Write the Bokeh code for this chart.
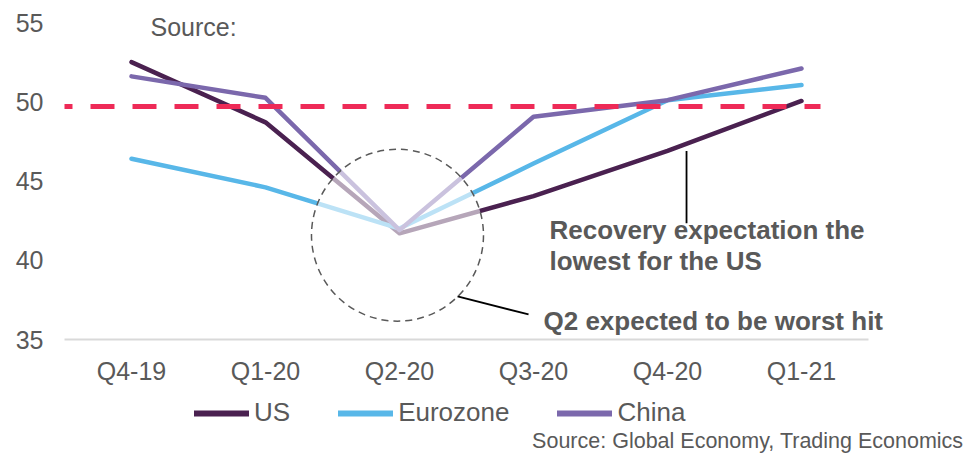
from bokeh.plotting import figure
from bokeh.models import (Range1d, FixedTicker, Legend, LegendItem, Label, Arrow)
from bokeh.layouts import column
from bokeh.embed import file_html
from bokeh.resources import INLINE

# ---- data ----
quarters = ["Q4-19", "Q1-20", "Q2-20", "Q3-20", "Q4-20", "Q1-21"]
us = [52.5, 48.7, 41.7, 44.05, 46.9, 50.05]
eurozone = [46.4, 44.6, 42.0, 46.1, 50.1, 51.05]
china = [51.6, 50.25, 41.9, 49.05, 50.1, 52.1]
y_ticks = [35, 40, 45, 50, 55]

series_names = ["US", "Eurozone", "China"]
series_values = [us, eurozone, china]
series_colors = ["#4A2150", "#58B7E8", "#7B68AC"]

GREY = "#595959"
FONT = "Liberation Sans"
xpos = list(range(len(quarters)))          # category slots
idx = {q: i for i, q in enumerate(quarters)}

# ---------------- main chart ----------------
H1 = 395
p = figure(width=966, height=H1, x_range=Range1d(-0.5, -0.5 + 902 / 134),
           y_range=Range1d(35, 55 + 22 / 15.85), output_backend="svg",
           toolbar_location=None, min_border_left=64, min_border_right=0,
           min_border_top=0, min_border_bottom=H1 - 339)
p.outline_line_color = None
p.xgrid.visible = False
p.ygrid.visible = False

xa = p.xaxis[0]
xa.ticker = FixedTicker(ticks=xpos)
xa.major_label_overrides = {i: q for i, q in enumerate(quarters)}
xa.bounds = (-0.5, len(quarters) - 0.5)
xa.axis_line_color = "#D9D9D9"
xa.axis_line_width = 2
xa.major_tick_line_color = None
xa.minor_tick_line_color = None
xa.major_tick_out = 0
xa.major_tick_in = 0
xa.major_label_standoff = 17
xa.major_label_text_font = FONT
xa.major_label_text_font_size = "25px"
xa.major_label_text_color = GREY

ya = p.yaxis[0]
ya.ticker = FixedTicker(ticks=y_ticks)
ya.axis_line_color = None
ya.major_tick_line_color = None
ya.minor_tick_line_color = None
ya.major_tick_out = 0
ya.major_tick_in = 0
ya.major_label_standoff = 21
ya.major_label_text_font = FONT
ya.major_label_text_font_size = "25px"
ya.major_label_text_color = GREY

# threshold dashed line
p.add_layout(Arrow(start=None, end=None, x_start=-16, y_start=233, x_end=756, y_end=233,
                   start_units="screen", end_units="screen",
                   line_color="#EE2A57", line_width=5, line_dash="24 18"))

for name, vals, col in zip(series_names, series_values, series_colors):
    p.line(x=xpos, y=vals, line_color=col, line_width=4.5,
           line_join="round", line_cap="round")

# fading circle around Q2-20
p.scatter(x=[idx["Q2-20"] - 0.015], y=[41.58], marker="circle", size=172,
          fill_color="white", fill_alpha=0.6,
          line_color=GREY, line_width=1.5, line_dash="7 5")

# pointer lines
p.segment(x0=[idx["Q2-20"] + 0.433], y0=[37.72], x1=[idx["Q3-20"] - 0.037], y1=[36.58],
          line_color="black", line_width=1.8)
p.segment(x0=[idx["Q4-20"] + 0.142], y0=[46.9], x1=[idx["Q4-20"] + 0.142], y1=[42.34],
          line_color="black", line_width=1.8)

def add_label(fig, text, x, y, size, bold=False, align="left"):
    fig.add_layout(Label(x=x, y=y, x_units="screen", y_units="screen", text=text,
                         text_font=FONT, text_font_size=size, text_color=GREY,
                         text_font_style="bold" if bold else "normal",
                         text_align=align, text_baseline="alphabetic"))

add_label(p, "Source:", 86, 313, "25px")
add_label(p, "Recovery expectation the", 485, 110, "26px", bold=True)
add_label(p, "lowest for the US", 485, 79, "26px", bold=True)
add_label(p, "Q2 expected to be worst hit", 479, 19, "26px", bold=True)

# ---------------- legend + source strip (frame aligned with main chart) ----------------
H2 = 453 - H1
p2 = figure(width=966, height=H2, x_range=Range1d(0, 902), y_range=Range1d(0, H2),
            output_backend="svg", toolbar_location=None,
            min_border_left=64, min_border_right=0, min_border_top=0, min_border_bottom=0)
p2.axis.visible = False
p2.xgrid.visible = False
p2.ygrid.visible = False
p2.outline_line_color = None

items = []
for name, col in zip(series_names, series_colors):
    # legend-only renderer kept outside the visible range
    r = p2.line(x=[-50, -40], y=[-50, -50], line_color=col, line_width=6, line_cap="round")
    items.append(LegendItem(label=name, renderers=[r]))

legend = Legend(items=items, location=(130, 25), orientation="horizontal",
                glyph_width=55, glyph_height=26, label_height=26, label_standoff=5,
                spacing=48, padding=0, margin=0, border_line_color=None,
                background_fill_alpha=0, label_text_font=FONT,
                label_text_font_size="26px", label_text_color=GREY)
p2.add_layout(legend)

add_label(p2, "Source: Global Economy, Trading Economics", 899, 13, "21.5px", align="right")

open("out.html", "w").write(file_html(column(p, p2, spacing=0), INLINE))
